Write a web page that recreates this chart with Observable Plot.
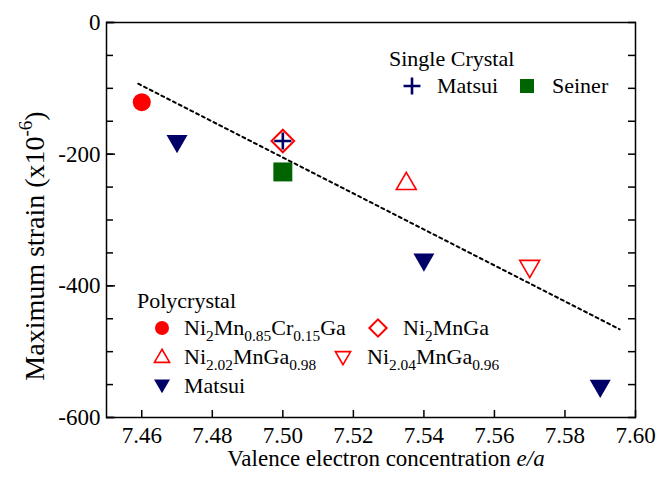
<!DOCTYPE html>
<html><head><meta charset="utf-8">
<script src="https://cdn.jsdelivr.net/npm/d3@7"></script>
<script src="https://cdn.jsdelivr.net/npm/@observablehq/plot@0.6"></script>
<style>
body{margin:0;background:#fff}
svg, svg text, svg tspan{font-family:"Liberation Serif","Times New Roman",serif !important}
</style>
</head><body><div id="chart"></div>
<script>
// ---- data ----
const polyNiMnCrGa = [{x: 7.46, y: -121}];
const polyNi2MnGa = [{x: 7.50, y: -180}];
const polyNi202 = [{x: 7.535, y: -245}];
const polyNi204 = [{x: 7.57, y: -370}];
const polyMatsui = [{x: 7.47, y: -180}, {x: 7.54, y: -360}, {x: 7.59, y: -552}];
const singleMatsui = [{x: 7.50, y: -180}];
const singleSeiner = [{x: 7.50, y: -227}];
const trendLine = [{x: 7.459, y: -93}, {x: 7.5955, y: -466}];
const xTicks = [7.46, 7.48, 7.50, 7.52, 7.54, 7.56, 7.58, 7.60];
const yMajor = [0, -200, -400, -600];
const yMinor = [0, -50, -100, -150, -200, -250, -300, -350, -400, -450, -500, -550, -600];

const RED = "#ff0000", NAVY = "#000066", GREEN = "#006400";
const FONT = '"Liberation Serif","Times New Roman",serif';

const chart = Plot.plot({
  width: 662, height: 490,
  marginLeft: 106, marginRight: 27, marginTop: 22, marginBottom: 73,
  x: {domain: [7.45, 7.60]},
  y: {domain: [-600, 0]},
  style: {fontFamily: FONT, background: "white", color: "black"},
  marks: [
    Plot.axisX({ticks: xTicks, tickSize: 0, tickPadding: 9, tickFormat: d3.format(".2f"), fontSize: 23, fontFamily: FONT, label: null}),
    Plot.axisX({ticks: xTicks, tickSize: -7, tickFormat: () => "", label: null, strokeWidth: 1.5}),
    Plot.axisY({anchor: "left", ticks: yMajor, tickSize: 0, tickPadding: 6, tickFormat: d => String(d), fontSize: 23, fontFamily: FONT, label: null}),
    Plot.axisY({anchor: "left", ticks: yMajor, tickSize: -9, tickFormat: () => "", label: null, strokeWidth: 1.5}),
    Plot.axisY({anchor: "left", ticks: yMinor, tickSize: -7, tickFormat: () => "", label: null, strokeWidth: 1.5}),
    Plot.axisY({anchor: "right", ticks: yMinor, tickSize: -8, tickFormat: () => "", label: null, strokeWidth: 1.5}),
    Plot.frame({stroke: "black", strokeWidth: 1.5}),
    Plot.dot(polyNiMnCrGa, {x: "x", y: "y", symbol: "circle", r: 9, fill: RED}),
    Plot.dot(polyMatsui, {x: "x", y: "y", symbol: "triangle", r: 7.8, fill: NAVY, rotate: 180}),
    Plot.dot(polyNi202, {x: "x", y: "y", symbol: "triangle", r: 7.4, fill: "white", stroke: RED, strokeWidth: 1.6}),
    Plot.dot(polyNi204, {x: "x", y: "y", symbol: "triangle", r: 7.4, fill: "white", stroke: RED, strokeWidth: 1.6, rotate: 180}),
    Plot.dot(singleSeiner, {x: "x", y: "y", symbol: "square", r: 10.7, fill: GREEN}),
    Plot.dot(polyNi2MnGa, {x: "x", y: "y", symbol: "diamond2", r: 10.2, fill: "white", stroke: RED, strokeWidth: 2}),
    Plot.dot(singleMatsui, {x: "x", y: "y", symbol: "plus", r: 5.6, stroke: NAVY, strokeWidth: 2.6}),
    Plot.line(trendLine, {x: "x", y: "y", stroke: "black", strokeWidth: 2, strokeDasharray: "3,3.5"})
  ]
});
document.getElementById("chart").appendChild(chart);

// ---- titles & legends ----
const svg = d3.select(chart);

function richText(g, x, y, parts, size, opts = {}) {
  const t = g.append("text").attr("x", x).attr("y", y)
    .attr("font-size", size).attr("font-family", FONT).attr("fill", "black")
    .attr("text-anchor", opts.anchor || "start");
  if (opts.transform) t.attr("transform", opts.transform);
  let shift = 0;
  for (const p of parts) {
    const [str, kind] = Array.isArray(p) ? p : [p, "n"];
    const span = t.append("tspan").text(str);
    let target = 0;
    if (kind === "sub") { target = size * 0.28; span.attr("font-size", size * 0.7); }
    else if (kind === "sup") { target = -size * 0.42; span.attr("font-size", size * 0.68); }
    else if (kind === "i") { span.attr("font-style", "italic"); }
    span.attr("dy", target - shift);
    shift = target;
  }
  return t;
}

// axis titles
richText(svg, 386, 466, ["Valence electron concentration ", ["e/a", "i"]], 23, {anchor: "middle"});
richText(svg, 0, 0, ["Maximum strain (x10", ["-6", "sup"], ")"], 28,
  {anchor: "middle", transform: "translate(44,246) rotate(-90)"});

function sym(g, type, area, x, y, style, rot = 0) {
  const p = g.append("path").attr("d", d3.symbol(type, area)())
    .attr("transform", `translate(${x},${y}) rotate(${rot})`);
  for (const k in style) p.attr(k, style[k]);
}
const lg = svg.append("g");
const LS = 22;
// single crystal
richText(lg, 389, 66, ["Single Crystal"], LS);
sym(lg, d3.symbolPlus, 95, 412, 86, {fill: "none", stroke: NAVY, "stroke-width": 2.6});
richText(lg, 437, 93, ["Matsui"], LS);
sym(lg, d3.symbolSquare, 196, 527, 86, {fill: GREEN});
richText(lg, 552, 93, ["Seiner"], LS);
// polycrystal
richText(lg, 137, 308, ["Polycrystal"], LS);
sym(lg, d3.symbolCircle, Math.PI * 49, 162, 328, {fill: RED});
richText(lg, 184, 335, ["Ni", ["2", "sub"], "Mn", ["0.85", "sub"], "Cr", ["0.15", "sub"], "Ga"], LS);
sym(lg, d3.symbolDiamond2, 190, 378, 328, {fill: "white", stroke: RED, "stroke-width": 2});
richText(lg, 403, 335, ["Ni", ["2", "sub"], "MnGa"], LS);
sym(lg, d3.symbolTriangle, 100, 162, 358, {fill: "white", stroke: RED, "stroke-width": 1.6});
richText(lg, 184, 364, ["Ni", ["2.02", "sub"], "MnGa", ["0.98", "sub"]], LS);
sym(lg, d3.symbolTriangle, 100, 343, 356, {fill: "white", stroke: RED, "stroke-width": 1.6}, 180);
richText(lg, 367, 364, ["Ni", ["2.04", "sub"], "MnGa", ["0.96", "sub"]], LS);
sym(lg, d3.symbolTriangle, 110, 162, 384, {fill: NAVY}, 180);
richText(lg, 184, 393, ["Matsui"], LS);
</script>
</body></html>
